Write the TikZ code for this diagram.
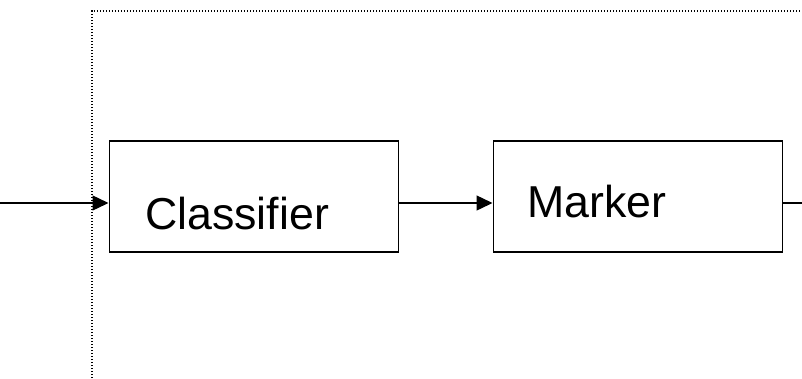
\documentclass[tikz,border=0pt]{standalone}
\usepackage{fontspec}
\setmainfont{Liberation Sans}
\usetikzlibrary{arrows.meta}
\begin{document}
\begin{tikzpicture}[x=1pt,y=-1pt,
  blk/.style={draw,line width=1.8pt,rectangle,minimum width=289pt,minimum height=111pt,inner sep=0pt,anchor=north west},
  lbl/.style={anchor=base west,inner sep=0pt,font=\fontsize{44.7}{50}\selectfont},
  arr/.style={line width=1.4pt,-{Triangle[length=16pt,width=15pt]}},
  wire/.style={line width=1.4pt},
  boundary/.style={line width=1.3pt,dash pattern=on 1.3pt off 1.7pt}]
  \useasboundingbox (0,0) rectangle (802,378);
  % system boundary
  \coordinate (bt) at (92,11);
  \coordinate (bb) at (92,378);
  \coordinate (br) at (802,11);
  \draw[boundary] (bb) -- (bt) -- (br);
  % blocks
  \node[blk] (clf) at (108.5,140) {};
  \node[blk] (mrk) at (492.5,140) {};
  \node[lbl] (clft) at (145,229) {Classifier};
  \node[lbl] (mrkt) at (527,217) {Marker};
  % signal path
  \coordinate (in) at (0,203);
  \coordinate (out) at (802,203);
  \draw[arr] (in) -- (in -| clf.west);
  \draw[arr] (in -| clf.east) -- (in -| mrk.west);
  \draw[wire] (in -| mrk.east) -- (out);
\end{tikzpicture}
\end{document}
